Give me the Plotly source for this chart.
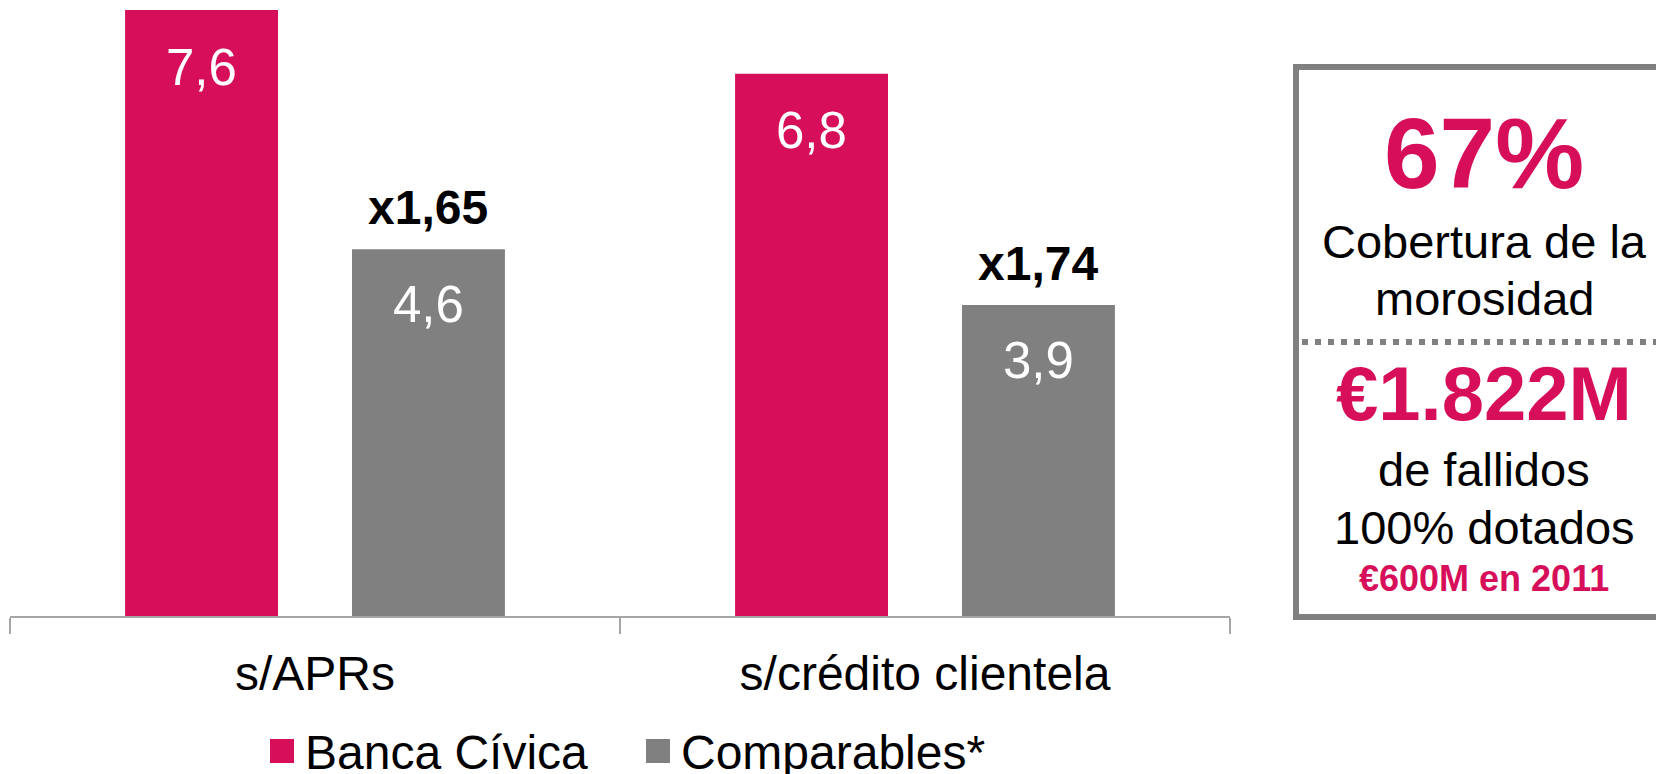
import plotly.graph_objects as go

# ---------------- data ----------------
categories = ["s/APRs", "s/crédito clientela"]
series_names = ["Banca Cívica", "Comparables*"]
banca_civica = [7.6, 6.8]
comparables = [4.6, 3.9]
ratio_labels = ["x1,65", "x1,74"]

box_big_1 = "67%"
box_text_1 = ["Cobertura de la", "morosidad"]
box_big_2 = "€1.822M"
box_text_2 = ["de fallidos", "100% dotados"]
box_small = "€600M en 2011"

# ---------------- style ----------------
PINK = "#D70F5A"
GRAY = "#808080"
AXIS = "#A6A6A6"
FONT = "Arial, Liberation Sans, sans-serif"

W, H = 1656, 774
ML, MR, MT, MB = 10, 426, 10, 158
PW, PH = W - ML - MR, H - MT - MB

BARGAP = 0.256
BARGROUPGAP = 0.326


def px_x(px):
    return (px - ML) / PW


def px_y(py):
    return (H - MB - py) / PH


def fmt(v):
    return f"{v:.1f}".replace(".", ",")


fig = go.Figure()
fig.add_trace(go.Bar(x=categories, y=banca_civica, name=series_names[0],
                     marker=dict(color=PINK, line=dict(width=0)), showlegend=False))
fig.add_trace(go.Bar(x=categories, y=comparables, name=series_names[1],
                     marker=dict(color=GRAY, line=dict(width=0)), showlegend=False))

annotations = []
offset = (1 - BARGAP) / 4
for i, cat in enumerate(categories):
    annotations.append(dict(x=i - offset, y=banca_civica[i], xref="x", yref="y",
                            text=fmt(banca_civica[i]), showarrow=False,
                            yanchor="middle", yshift=-57,
                            font=dict(family=FONT, size=51, color="white")))
    annotations.append(dict(x=i + offset, y=comparables[i], xref="x", yref="y",
                            text=fmt(comparables[i]), showarrow=False,
                            yanchor="middle", yshift=-55,
                            font=dict(family=FONT, size=51, color="white")))
    annotations.append(dict(x=i + offset, y=comparables[i], xref="x", yref="y",
                            text="<b>" + ratio_labels[i] + "</b>", showarrow=False,
                            yanchor="middle", yshift=42,
                            font=dict(family=FONT, size=48, color="black")))

# right-hand box texts
cx = px_x(1484)
box_lines = [
    ("<b>" + box_big_1 + "</b>", 153, 100, PINK),
    (box_text_1[0], 241, 47, "black"),
    (box_text_1[1], 298, 47, "black"),
    ("<b>" + box_big_2 + "</b>", 393, 76, PINK),
    (box_text_2[0], 469, 47, "black"),
    (box_text_2[1], 527, 47, "black"),
    ("<b>" + box_small + "</b>", 578, 36, PINK),
]
for txt, yc, size, col in box_lines:
    annotations.append(dict(x=cx, y=px_y(yc), xref="paper", yref="paper", text=txt,
                            showarrow=False, xanchor="center", yanchor="middle",
                            font=dict(family=FONT, size=size, color=col)))

# manual legend
legend_items = [(series_names[0], PINK, 270), (series_names[1], GRAY, 646)]
shapes = []
for name, col, x0 in legend_items:
    shapes.append(dict(type="rect", xref="paper", yref="paper",
                       x0=px_x(x0), x1=px_x(x0 + 24), y0=px_y(763), y1=px_y(739),
                       fillcolor=col, line=dict(width=0)))
    annotations.append(dict(x=px_x(x0 + 33), y=px_y(752), xref="paper", yref="paper",
                            text=name, showarrow=False, xanchor="left", yanchor="middle",
                            font=dict(family=FONT, size=48, color="black")))

# box and dotted divider
shapes.append(dict(type="rect", xref="paper", yref="paper",
                   x0=px_x(1296), x1=px_x(1720), y0=px_y(617), y1=px_y(67),
                   line=dict(color=GRAY, width=6), fillcolor="rgba(0,0,0,0)"))
shapes.append(dict(type="line", xref="paper", yref="paper",
                   x0=px_x(1302), x1=px_x(1720), y0=px_y(342), y1=px_y(342),
                   line=dict(color=GRAY, width=6, dash="6px,7px")))

fig.update_layout(
    width=W, height=H,
    margin=dict(l=ML, r=MR, t=MT, b=MB, pad=0),
    paper_bgcolor="white", plot_bgcolor="white",
    barmode="group", bargap=BARGAP, bargroupgap=BARGROUPGAP,
    showlegend=False,
    font=dict(family=FONT, color="black"),
    xaxis=dict(showline=True, linecolor=AXIS, linewidth=1.5,
               ticks="outside", tickson="boundaries", ticklen=16,
               tickcolor=AXIS, tickwidth=1.5, showgrid=False,
               tickfont=dict(family=FONT, size=48, color="black"),
               ticklabelstandoff=15, range=[-0.5, 1.5]),
    yaxis=dict(visible=False, range=[0, 7.6], showgrid=False, zeroline=False),
    annotations=annotations,
    shapes=shapes,
)

fig.write_html("out.html")
